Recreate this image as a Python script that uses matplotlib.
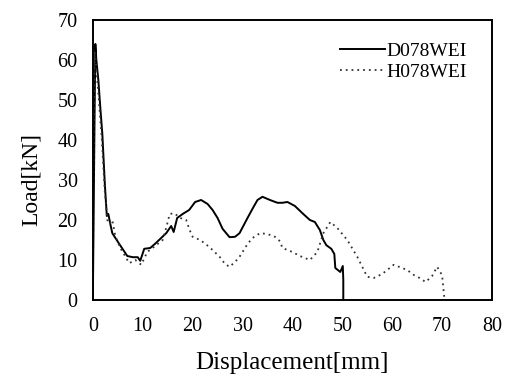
import matplotlib
matplotlib.use("Agg")
import matplotlib.pyplot as plt

plt.rcParams.update({'font.family': 'serif'})
plt.rcParams.update({'font.serif': ['Liberation Serif', 'DejaVu Serif']})

# D078WEI (solid)
d_disp = [0, 0.3, 0.5, 0.7, 1.1, 1.5, 1.9, 2.4, 2.8, 3.1, 3.5, 3.9, 5.3, 6.9, 8.0,
          9.0, 9.5, 10.3, 11.5, 12.6, 14.7, 15.7, 16.2, 16.9, 18.0, 19.3, 20.5,
          21.7, 23.0, 24.0, 25.0, 26.0, 27.4, 28.5, 29.4, 31.0, 32.0, 33.0, 34.0,
          35.5, 37.0, 38.0, 39.0, 40.5, 42.0, 43.5, 44.5, 45.5, 46.2, 46.8, 47.8,
          48.4, 48.6, 49.6, 50.1, 50.2, 50.2]
d_load = [0, 40, 64, 60, 55, 48, 41.5, 29, 21, 21.5, 19, 16.7, 14, 11, 10.7,
          10.7, 9.8, 12.8, 13, 14.2, 16.7, 18.5, 17, 20.5, 21.5, 22.5, 24.5,
          25, 24, 22.5, 20.5, 17.8, 15.7, 15.8, 16.7, 20.5, 22.8, 25, 25.8,
          25, 24.3, 24.3, 24.5, 23.5, 21.7, 20, 19.5, 17.5, 15, 13.7, 12.8,
          11.5, 8, 7, 8.5, 5, 0]

# H078WEI (dotted)
h_disp = [0, 0.2, 0.4, 0.7, 1.2, 1.8, 2.4, 2.9, 3.3, 3.9, 4.5, 5.5, 7.3, 8.5,
          9.7, 10.9, 12.5, 14.0, 14.8, 15.4, 16.3, 17.5, 18.7, 19.4, 20.0, 21.5,
          22.8, 24.0, 25.4, 26.5, 27.4, 28.5, 29.4, 31.0, 32.0, 33.5, 35.0, 36.5,
          37.5, 38.0, 40.0, 41.5, 43.5, 45.0, 46.2, 47.6, 49.0, 51.0, 53.0, 55.0,
          56.3, 58.0, 60.3, 62.0, 63.0, 64.4, 65.5, 66.7, 68.0, 69.0, 70.0, 70.5]
h_load = [0, 45, 62, 58, 50, 40, 27, 20, 19, 20, 16, 13, 9.2, 10,
          8.8, 12, 13.5, 15, 18.5, 21.5, 21.7, 20.5, 20, 17.5, 15.8, 15,
          13.8, 12.5, 10.8, 9, 8.3, 9.5, 10.8, 14, 15.5, 16.7, 16.5, 15.8,
          14.7, 13, 12, 11, 10, 12, 16.7, 19.5, 18, 15, 10.8, 5.8,
          5.5, 6.5, 8.8, 8, 7.5, 6.2, 5.5, 4.5, 6, 8.3, 6.2, 0]

xticks = [0, 10, 20, 30, 40, 50, 60, 70, 80]
yticks = [0, 10, 20, 30, 40, 50, 60, 70]

fig = plt.figure(figsize=(5.13, 3.81), dpi=100)
ax = fig.add_axes([0.181, 0.2126, 0.778, 0.735])

ax.plot(d_disp, d_load, color='black', linewidth=1.4, label='D078WEI')
ax.plot(h_disp, h_load, color='#333333', linewidth=1.3, linestyle=(0, (1, 2.2)),
        label='H078WEI')

ax.set_xlim(0, 80)
ax.set_ylim(0, 70)
ax.set_xticks(xticks)
ax.set_yticks(yticks)
ax.tick_params(axis='both', length=0, labelsize=14.5)
ax.tick_params(axis='x', pad=12)
ax.tick_params(axis='y', pad=11)
for s in ax.spines.values():
    s.set_linewidth(1.4)

ax.set_xlabel('Displacement[mm]', fontsize=18, va='center')
ax.set_ylabel('Load[kN]', fontsize=17, va='center')
ax.xaxis.set_label_coords(0.5, -0.225)
ax.yaxis.set_label_coords(-0.153, 0.43)

ax.legend(loc='upper left', bbox_to_anchor=(0.619, 0.92), frameon=False,
          fontsize=14, handlelength=2.3, handletextpad=0.1, labelspacing=0.17,
          borderpad=0, borderaxespad=0)

plt.savefig('out.png', dpi=100)
